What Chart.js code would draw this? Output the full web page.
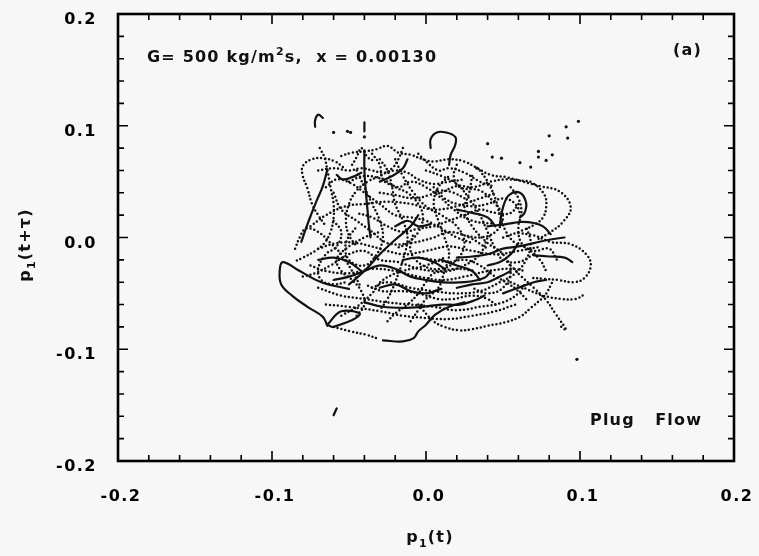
<!DOCTYPE html>
<html>
<head>
<meta charset="utf-8">
<script src="https://cdn.jsdelivr.net/npm/chart.js@4.4.1/dist/chart.umd.min.js"></script>
<style>
  html, body { margin: 0; padding: 0; background: #f7f7f7; }
  #wrap { width: 759px; height: 556px; }
</style>
</head>
<body>
<div id="wrap"><canvas id="phase" width="759" height="556"></canvas></div>
<script>
// axis ticks (same range on both axes)
const majorTicks = [-0.2, -0.1, 0.0, 0.1, 0.2];
const minorTicks = [-0.18, -0.16, -0.14, -0.12, -0.08, -0.06, -0.04, -0.02,
                    0.02, 0.04, 0.06, 0.08, 0.12, 0.14, 0.16, 0.18];

// pieces of the p1(t) / p1(t+tau) trajectory, sampled points as [x, y]
const dottedTraces = [
  [[-0.054,0.063],[-0.059,0.068],[-0.067,0.071],[-0.074,0.070],[-0.080,0.064],[-0.080,0.055],[-0.077,0.044],[-0.074,0.030],[-0.070,0.020],[-0.066,0.012]],
  [[-0.069,0.080],[-0.066,0.072],[-0.064,0.060],[-0.062,0.045],[-0.060,0.030],[-0.060,0.018],[-0.062,0.005],[-0.066,-0.005],[-0.072,-0.012],[-0.080,-0.018],[-0.086,-0.022]],
  [[-0.055,0.073],[-0.048,0.076],[-0.040,0.077],[-0.032,0.079],[-0.025,0.082],[-0.018,0.076],[-0.010,0.074],[-0.002,0.070],[0.005,0.068],[0.015,0.070],[0.025,0.068],[0.032,0.063],[0.042,0.056],[0.052,0.054],[0.063,0.050],[0.074,0.046],[0.087,0.041],[0.094,0.027],[0.089,0.014],[0.081,0.005],[0.072,-0.002]],
  [[0.010,0.040],[0.020,0.046],[0.031,0.045],[0.042,0.050],[0.052,0.052],[0.062,0.051],[0.069,0.049],[0.077,0.038],[0.078,0.027],[0.076,0.018],[0.071,0.012],[0.062,0.006],[0.050,0.000]],
  [[-0.005,-0.060],[0.005,-0.075],[0.012,-0.080],[0.021,-0.083],[0.030,-0.082],[0.040,-0.079],[0.051,-0.076],[0.061,-0.071],[0.068,-0.063],[0.077,-0.052],[0.082,-0.040]],
  [[0.055,-0.025],[0.062,-0.035],[0.070,-0.045],[0.078,-0.056],[0.084,-0.068],[0.090,-0.080],[0.091,-0.083],[0.086,-0.078]],
  [[0.060,0.004],[0.070,0.002],[0.081,-0.004],[0.094,-0.006],[0.104,-0.015],[0.107,-0.025],[0.103,-0.036],[0.096,-0.040],[0.086,-0.038],[0.077,-0.037],[0.068,-0.036]],
  [[0.055,-0.040],[0.065,-0.046],[0.076,-0.052],[0.088,-0.055],[0.097,-0.055],[0.104,-0.050]],
  [[-0.060,-0.080],[-0.049,-0.084],[-0.039,-0.087],[-0.030,-0.091]],
  [[-0.075,-0.025],[-0.065,-0.030],[-0.050,-0.032],[-0.035,-0.028],[-0.020,-0.030],[-0.005,-0.035],[0.010,-0.038],[0.025,-0.035],[0.040,-0.030],[0.055,-0.028],[0.065,-0.030]],
  [[-0.070,-0.045],[-0.055,-0.052],[-0.040,-0.055],[-0.025,-0.058],[-0.010,-0.060],[0.005,-0.062],[0.020,-0.065],[0.035,-0.062],[0.050,-0.058],[0.060,-0.050],[0.065,-0.040]],
  [[-0.065,-0.060],[-0.050,-0.062],[-0.030,-0.066],[-0.015,-0.070],[0.000,-0.072],[0.015,-0.073],[0.030,-0.070],[0.045,-0.066],[0.058,-0.060]],
  [[-0.045,0.060],[-0.040,0.045],[-0.035,0.030],[-0.030,0.015],[-0.028,0.000],[-0.032,-0.015],[-0.040,-0.025],[-0.050,-0.020],[-0.052,-0.005],[-0.045,0.010]],
  [[-0.020,0.070],[-0.015,0.055],[-0.008,0.040],[0.000,0.028],[0.010,0.020],[0.020,0.010],[0.025,-0.005],[0.020,-0.020],[0.010,-0.028],[-0.002,-0.025],[-0.010,-0.012],[-0.008,0.005]],
  [[0.000,0.060],[0.010,0.055],[0.020,0.048],[0.028,0.035],[0.035,0.020],[0.040,0.005],[0.045,-0.010],[0.050,-0.020],[0.060,-0.022],[0.070,-0.015]],
  [[-0.075,0.010],[-0.065,0.020],[-0.052,0.028],[-0.040,0.030],[-0.025,0.032],[-0.010,0.030],[0.005,0.025],[0.020,0.028],[0.035,0.035],[0.045,0.040]],
  [[-0.070,-0.010],[-0.058,-0.005],[-0.045,-0.005],[-0.030,-0.010],[-0.015,-0.015],[0.000,-0.012],[0.015,-0.008],[0.030,-0.012],[0.045,-0.015],[0.060,-0.012],[0.075,-0.008]],
  [[-0.050,0.050],[-0.040,0.055],[-0.028,0.052],[-0.018,0.045],[-0.010,0.050],[0.000,0.045],[0.010,0.035],[0.018,0.025],[0.030,0.015],[0.045,0.012]],
  [[-0.030,0.070],[-0.025,0.060],[-0.022,0.045],[-0.020,0.030],[-0.015,0.015],[-0.012,0.000],[-0.015,-0.020],[-0.020,-0.040],[-0.025,-0.055],[-0.030,-0.065]],
  [[0.030,0.055],[0.028,0.040],[0.025,0.025],[0.030,0.010],[0.040,-0.005],[0.050,-0.015],[0.055,-0.030],[0.050,-0.045],[0.040,-0.050],[0.030,-0.045]],
  [[-0.060,0.040],[-0.055,0.025],[-0.045,0.015],[-0.035,0.005],[-0.025,-0.005],[-0.010,-0.005],[0.005,0.000],[0.015,0.005],[0.028,0.000],[0.040,-0.010]],
  [[-0.035,-0.045],[-0.025,-0.040],[-0.010,-0.045],[0.005,-0.048],[0.020,-0.050],[0.035,-0.048],[0.048,-0.040],[0.058,-0.032],[0.065,-0.020],[0.068,-0.005],[0.065,0.010]],
  [[0.055,0.045],[0.060,0.035],[0.062,0.022],[0.060,0.010],[0.062,-0.005],[0.070,-0.012],[0.080,-0.010],[0.085,-0.020]],
  [[-0.085,-0.010],[-0.082,0.000],[-0.078,0.008],[-0.070,0.005],[-0.062,-0.005],[-0.055,-0.015],[-0.048,-0.030],[-0.042,-0.045]],
  [[-0.048,0.065],[-0.045,0.072],[-0.042,0.080],[-0.038,0.072],[-0.033,0.068]],
  [[-0.005,0.075],[0.000,0.068],[0.008,0.060],[0.015,0.062],[0.025,0.058],[0.035,0.050],[0.045,0.045]],
  [[-0.055,-0.070],[-0.045,-0.062],[-0.035,-0.050],[-0.028,-0.038],[-0.015,-0.030],[0.000,-0.025],[0.012,-0.018]],
  [[-0.070,0.060],[-0.060,0.062],[-0.050,0.060],[-0.042,0.062],[-0.035,0.060],[-0.028,0.058],[-0.020,0.060],[-0.012,0.058],[-0.005,0.052],[0.005,0.048],[0.015,0.050],[0.025,0.052]],
  [[-0.015,0.080],[-0.018,0.070],[-0.022,0.062],[-0.030,0.055],[-0.038,0.050],[-0.045,0.042],[-0.050,0.030],[-0.052,0.015],[-0.050,0.002],[-0.045,-0.008]],
  [[0.005,0.045],[0.012,0.035],[0.020,0.030],[0.030,0.028],[0.040,0.030],[0.050,0.035],[0.058,0.030],[0.062,0.018]],
  [[-0.030,0.040],[-0.020,0.038],[-0.008,0.035],[0.002,0.038],[0.010,0.042],[0.018,0.040],[0.025,0.035]],
  [[0.065,-0.055],[0.060,-0.048],[0.052,-0.040],[0.045,-0.035],[0.035,-0.025],[0.025,-0.020],[0.015,-0.022],[0.005,-0.020],[-0.005,-0.018]],
  [[-0.060,0.015],[-0.055,0.005],[-0.058,-0.008],[-0.065,-0.015],[-0.070,-0.028],[-0.068,-0.038],[-0.060,-0.042],[-0.052,-0.040]],
  [[-0.065,0.045],[-0.058,0.052],[-0.048,0.048],[-0.040,0.040],[-0.030,0.030],[-0.020,0.020],[-0.010,0.018],[0.000,0.015],[0.010,0.008],[0.020,0.000],[0.030,-0.005]],
  [[0.035,0.060],[0.040,0.050],[0.045,0.035],[0.048,0.020],[0.052,0.005],[0.058,-0.005],[0.066,-0.010],[0.074,-0.020],[0.078,-0.030]],
  [[-0.080,-0.035],[-0.072,-0.032],[-0.062,-0.025],[-0.050,-0.015],[-0.040,-0.012],[-0.030,-0.020],[-0.018,-0.022],[-0.005,-0.028],[0.008,-0.030],[0.020,-0.028],[0.032,-0.030]],
  [[-0.010,-0.075],[-0.005,-0.065],[0.000,-0.055],[0.008,-0.045],[0.012,-0.030],[0.015,-0.015],[0.012,0.000],[0.008,0.015],[0.005,0.030],[0.008,0.045],[0.015,0.055]],
  [[-0.045,-0.070],[-0.040,-0.060],[-0.042,-0.048],[-0.048,-0.038],[-0.055,-0.030],[-0.058,-0.020],[-0.052,-0.010],[-0.040,0.000],[-0.030,0.005]],
  [[0.045,-0.060],[0.040,-0.055],[0.030,-0.052],[0.018,-0.055],[0.008,-0.055],[-0.005,-0.050],[-0.015,-0.048],[-0.028,-0.048],[-0.040,-0.042]],
  [[-0.035,0.075],[-0.030,0.065],[-0.028,0.052],[-0.020,0.045],[-0.012,0.040],[-0.005,0.030],[-0.002,0.018],[-0.005,0.005],[-0.012,-0.005],[-0.020,-0.010]],
  [[0.020,0.065],[0.018,0.055],[0.022,0.045],[0.035,0.042],[0.045,0.030],[0.050,0.018],[0.045,0.005],[0.035,0.000],[0.025,0.002]],
  [[-0.025,-0.075],[-0.020,-0.068],[-0.012,-0.060],[-0.005,-0.050],[0.000,-0.040],[0.005,-0.032],[0.015,-0.030],[0.025,-0.025],[0.035,-0.015],[0.040,0.000]],
  [[0.060,0.030],[0.055,0.022],[0.045,0.022],[0.035,0.025],[0.025,0.020],[0.015,0.015],[0.005,0.010],[-0.005,0.008],[-0.015,0.005],[-0.025,0.010],[-0.035,0.018],[-0.045,0.022]]
];

const solidTraces = [
  [[-0.050,-0.046],[-0.068,-0.040],[-0.082,-0.030],[-0.093,-0.022],[-0.095,-0.030],[-0.094,-0.042],[-0.087,-0.052],[-0.077,-0.062],[-0.067,-0.071],[-0.064,-0.079]],
  [[-0.064,-0.078],[-0.055,-0.066],[-0.043,-0.069],[-0.060,-0.080],[-0.064,-0.078]],
  [[-0.028,-0.092],[-0.015,-0.093],[-0.008,-0.090],[-0.005,-0.084],[0.000,-0.078],[0.006,-0.069],[0.015,-0.062],[0.025,-0.058]],
  [[-0.040,0.078],[-0.040,0.060],[-0.039,0.040],[-0.038,0.025],[-0.037,0.010],[-0.036,0.000]],
  [[0.015,0.065],[0.016,0.074],[0.019,0.083],[0.019,0.090],[0.013,0.094],[0.007,0.094],[0.003,0.088],[0.003,0.080]],
  [[-0.067,0.107],[-0.070,0.110],[-0.072,0.105],[-0.072,0.099]],
  [[0.048,0.012],[0.050,0.027],[0.054,0.038],[0.061,0.040],[0.065,0.031],[0.064,0.022],[0.061,0.018]],
  [[0.070,-0.016],[0.080,-0.017],[0.090,-0.018],[0.095,-0.022]],
  [[0.040,0.010],[0.052,0.012],[0.062,0.014],[0.070,0.013],[0.076,0.010],[0.081,0.003]],
  [[-0.060,-0.038],[-0.050,-0.035],[-0.040,-0.030],[-0.030,-0.025],[-0.020,-0.028],[-0.010,-0.035],[0.000,-0.038],[0.010,-0.040],[0.025,-0.040],[0.038,-0.036],[0.042,-0.030]],
  [[0.020,-0.018],[0.030,-0.017],[0.040,-0.015],[0.050,-0.010],[0.060,-0.008],[0.070,-0.005],[0.080,-0.002],[0.090,0.000]],
  [[-0.040,-0.058],[-0.028,-0.062],[-0.015,-0.063],[-0.002,-0.062],[0.010,-0.060],[0.022,-0.060],[0.032,-0.056],[0.038,-0.052]],
  [[-0.081,-0.004],[-0.078,0.008],[-0.075,0.019],[-0.071,0.033],[-0.067,0.046],[-0.064,0.061]],
  [[-0.050,-0.042],[-0.040,-0.030],[-0.030,-0.015],[-0.020,-0.002],[-0.010,0.010],[-0.005,0.020]],
  [[-0.058,0.056],[-0.054,0.052],[-0.048,0.054],[-0.042,0.058]],
  [[0.050,-0.050],[0.060,-0.045],[0.070,-0.040],[0.078,-0.038]],
  [[-0.030,-0.045],[-0.020,-0.042],[-0.010,-0.048],[0.000,-0.050],[0.010,-0.046]],
  [[0.010,-0.020],[0.020,-0.025],[0.030,-0.030],[0.035,-0.038]],
  [[-0.020,0.010],[-0.012,0.015],[-0.005,0.010],[0.003,0.012]],
  [[0.020,-0.045],[0.030,-0.042],[0.040,-0.040],[0.048,-0.035],[0.055,-0.030]],
  [[-0.070,-0.020],[-0.060,-0.018],[-0.050,-0.022],[-0.042,-0.030]],
  [[0.020,0.025],[0.030,0.022],[0.040,0.018],[0.045,0.010]],
  [[-0.015,-0.020],[-0.005,-0.018],[0.005,-0.022],[0.012,-0.028]],
  [[0.040,-0.025],[0.048,-0.022],[0.055,-0.015],[0.060,-0.005]],
  [[-0.030,0.050],[-0.022,0.055],[-0.015,0.062],[-0.012,0.070]],
  [[-0.060,-0.159],[-0.058,-0.153]],
  [[-0.040,0.103],[-0.040,0.095]]
];

// isolated samples away from the main tangle
const strayPoints = [
  [0.099,0.104],[0.091,0.099],[0.080,0.091],[0.092,0.089],[0.073,0.077],[0.073,0.072],
  [0.078,0.069],[0.082,0.074],[0.068,0.063],[0.061,0.067],[0.040,0.084],[0.043,0.072],
  [0.049,0.071],[0.033,0.062],[-0.060,0.094],[-0.051,0.095],[-0.049,0.094],[-0.040,0.090],
  [0.098,-0.109]
];

const INK = '#111';
const FONT = '"DejaVu Sans", sans-serif';
const toXY = pts => pts.map(p => ({ x: p[0], y: p[1] }));

const datasets = [];
dottedTraces.forEach(t => datasets.push({
  data: toXY(t), showLine: true, tension: 0.4, pointRadius: 0,
  borderColor: INK, borderWidth: 2.5, borderDash: [0, 4], borderCapStyle: 'round'
}));
solidTraces.forEach(t => datasets.push({
  data: toXY(t), showLine: true, tension: 0.4, pointRadius: 0,
  borderColor: INK, borderWidth: 2.2, borderCapStyle: 'round', borderJoinStyle: 'round'
}));
datasets.push({ data: toXY(strayPoints), showLine: false, pointRadius: 1.6, pointBackgroundColor: INK, pointBorderWidth: 0 });

// draws a run of text pieces, some raised or lowered (sub/superscripts)
function runsWidth(ctx, runs) {
  return runs.reduce((w, r) => { ctx.font = r.font; return w + ctx.measureText(r.t).width; }, 0);
}
function drawRuns(ctx, runs, x, y) {
  runs.forEach(r => {
    ctx.font = r.font;
    ctx.fillText(r.t, x, y + (r.dy || 0));
    x += ctx.measureText(r.t).width;
  });
}

const big = 'bold 16px ' + FONT;
const small = 'bold 11px ' + FONT;

const frameAndText = {
  id: 'frameAndText',
  beforeDraw(chart) {
    chart.ctx.letterSpacing = '1.5px';
  },
  afterDatasetsDraw(chart) {
    const { ctx, chartArea: a, scales: { x, y } } = chart;
    ctx.save();
    ctx.strokeStyle = '#000';
    ctx.lineWidth = 1.6;
    const tick = (v, len) => {
      const px = x.getPixelForValue(v), py = y.getPixelForValue(v);
      ctx.beginPath();
      ctx.moveTo(px, a.bottom); ctx.lineTo(px, a.bottom - len);
      ctx.moveTo(px, a.top); ctx.lineTo(px, a.top + len);
      ctx.moveTo(a.left, py); ctx.lineTo(a.left + len, py);
      ctx.moveTo(a.right, py); ctx.lineTo(a.right - len, py);
      ctx.stroke();
    };
    majorTicks.forEach(v => tick(v, 10));
    minorTicks.forEach(v => tick(v, 6));
    ctx.lineWidth = 2.6;
    ctx.strokeRect(a.left, a.top, a.right - a.left, a.bottom - a.top);

    ctx.fillStyle = INK;
    ctx.textBaseline = 'alphabetic';
    ctx.textAlign = 'left';
    ctx.letterSpacing = '1.2px';
    drawRuns(ctx, [
      { t: 'G= 500 kg/m', font: big },
      { t: '2', font: small, dy: -7 },
      { t: 's,  x = 0.00130', font: big }
    ], 147, 62);
    ctx.font = big;
    ctx.fillText('(a)', 673, 55);
    ctx.fillText('Plug   Flow', 590, 425);

    // axis titles
    const xt = [{ t: 'p', font: big }, { t: '1', font: small, dy: 5 }, { t: '(t)', font: big }];
    drawRuns(ctx, xt, 430 - runsWidth(ctx, xt) / 2, 542);
    const yt = [{ t: 'p', font: big }, { t: '1', font: small, dy: 5 }, { t: '(t+τ)', font: big }];
    ctx.translate(30, 245);
    ctx.rotate(-Math.PI / 2);
    drawRuns(ctx, yt, -runsWidth(ctx, yt) / 2, 0);
    ctx.restore();
  }
};

const tickFont = { family: FONT, weight: 'bold', size: 16 };
const fmt = v => (Math.abs(v) < 1e-9 ? 0 : v).toFixed(1);
// keep the plot frame exactly where the padding puts it
const noEdgePadding = s => { s.paddingTop = 0; s.paddingBottom = 0; s.paddingLeft = 0; s.paddingRight = 0; };

new Chart(document.getElementById('phase'), {
  type: 'scatter',
  data: { datasets },
  options: {
    responsive: false,
    animation: false,
    events: [],
    layout: { padding: { top: 14, right: 25, left: 0, bottom: 0 } },
    plugins: { legend: { display: false }, tooltip: { enabled: false } },
    scales: {
      x: {
        type: 'linear', min: -0.2, max: 0.2,
        grid: { display: false, drawTicks: false }, border: { display: false },
        ticks: { stepSize: 0.1, padding: 26, color: '#000', font: tickFont, callback: fmt, maxRotation: 0, autoSkip: false, labelOffset: 3 },
        afterFit: s => { s.height = 95; noEdgePadding(s); }
      },
      y: {
        type: 'linear', min: -0.2, max: 0.2,
        grid: { display: false, drawTicks: false }, border: { display: false },
        ticks: { stepSize: 0.1, padding: 21, color: '#000', font: tickFont, callback: fmt, autoSkip: false, labelOffset: 6 },
        afterFit: s => { s.width = 118; noEdgePadding(s); }
      }
    }
  },
  plugins: [frameAndText]
});
</script>
</body>
</html>
